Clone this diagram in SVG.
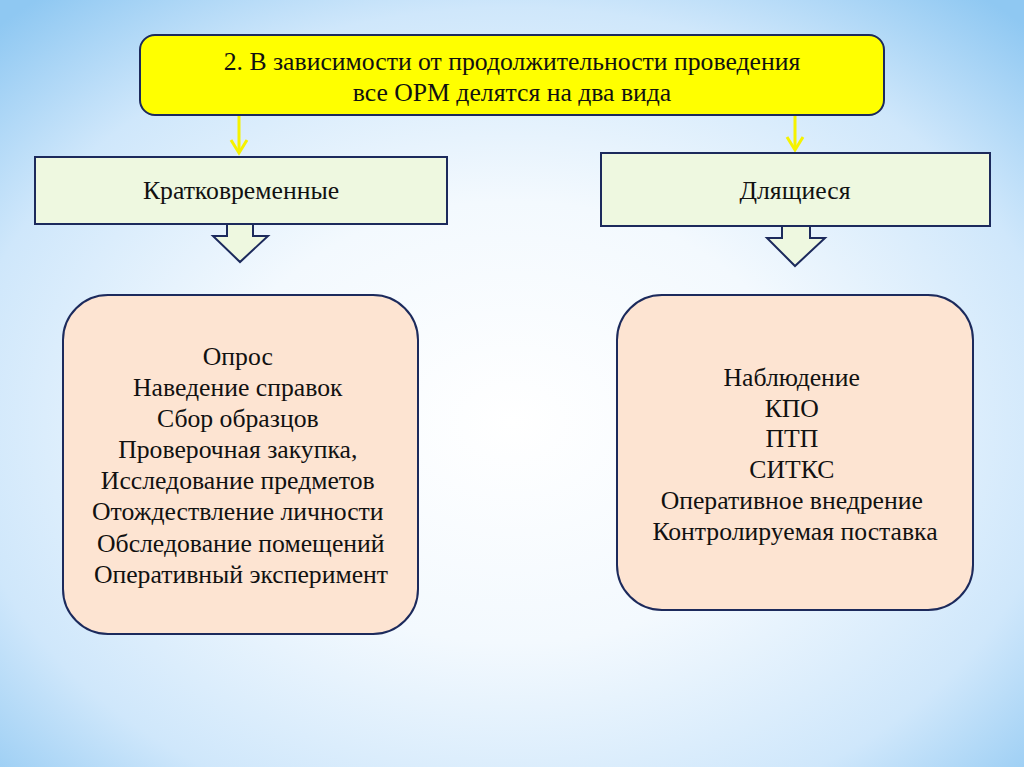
<svg xmlns="http://www.w3.org/2000/svg" width="1024" height="767" viewBox="0 0 1024 767">
  <defs>
    <radialGradient id="bg" cx="50%" cy="55%" r="72%" fx="50%" fy="55%">
      <stop offset="0" stop-color="#ffffff"/>
      <stop offset="0.4" stop-color="#f3f9fe"/>
      <stop offset="0.75" stop-color="#cfe7fb"/>
      <stop offset="1" stop-color="#8fc8f2"/>
    </radialGradient>
    <style>
      .box { stroke: #1c2a5c; stroke-width: 2; }
      .yl { stroke: #f5f200; stroke-width: 3; fill: none; }
      .blk { fill: #eef8e0; stroke: #1c2a5c; stroke-width: 2; stroke-linejoin: miter; }
    </style>
  </defs>
  <rect x="0" y="0" width="1024" height="767" fill="url(#bg)"/>

  <g id="connectors">
    <path class="yl" d="M239,116 V152"/>
    <path class="yl" d="M231,140 L239,153 L247,140"/>
    <path class="yl" d="M795,116 V149"/>
    <path class="yl" d="M787,137 L795,150 L803,137"/>
    <path class="blk" d="M227,225 V236 H213 L240,262 L268,236 H253 V225"/>
    <path class="blk" d="M782,226 V238 H767 L795,266 L825,238 H810 V226"/>
  </g>

  <g font-family="'Liberation Serif', 'DejaVu Serif', 'Times New Roman', serif" fill="#111" text-anchor="middle" font-size="25.7">
  <g id="header">
    <rect class="box" x="140" y="35" width="744" height="80" rx="15" fill="#ffff00"/>
    <text x="512" y="70">2. В зависимости от продолжительности проведения</text>
    <text x="512" y="101">все ОРМ делятся на два вида</text>
  </g>

  <g id="short">
    <rect class="box" x="35" y="157" width="412" height="67" fill="#eef8e0"/>
    <text x="241" y="199">Кратковременные</text>
  </g>

  <g id="long">
    <rect class="box" x="601" y="153" width="389" height="73" fill="#eef8e0"/>
    <text x="795" y="199">Длящиеся</text>
  </g>

  <g id="short-list">
    <rect class="box" x="63" y="295" width="355" height="339" rx="45" fill="#fde4d2"/>
    <text>
      <tspan x="241" y="365">Опрос</tspan>
      <tspan x="241" y="396">Наведение справок</tspan>
      <tspan x="241" y="427">Сбор образцов</tspan>
      <tspan x="241" y="458">Проверочная закупка,</tspan>
      <tspan x="241" y="489">Исследование предметов</tspan>
      <tspan x="241" y="520">Отождествление личности</tspan>
      <tspan x="244" y="552">Обследование помещений</tspan>
      <tspan x="241" y="583">Оперативный эксперимент</tspan>
    </text>
  </g>

  <g id="long-list">
    <rect class="box" x="617" y="295" width="356" height="315" rx="45" fill="#fde4d2"/>
    <text>
      <tspan x="795" y="386">Наблюдение</tspan>
      <tspan x="795" y="417">КПО</tspan>
      <tspan x="795" y="447">ПТП</tspan>
      <tspan x="795" y="478">СИТКС</tspan>
      <tspan x="795" y="509">Оперативное внедрение</tspan>
      <tspan x="795" y="540">Контролируемая поставка</tspan>
    </text>
  </g>
  </g>
</svg>
